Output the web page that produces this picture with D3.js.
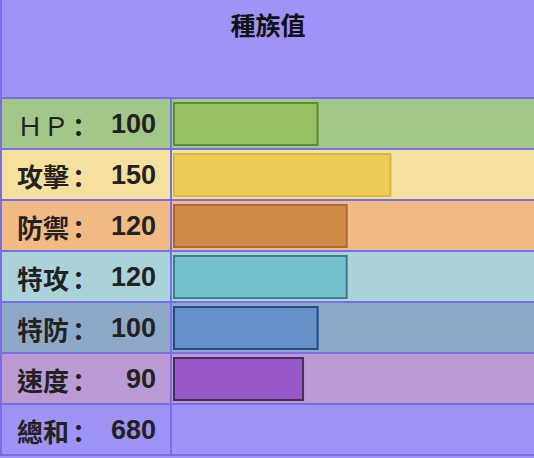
<!DOCTYPE html>
<html><head><meta charset="utf-8">
<script src="https://cdn.jsdelivr.net/npm/d3@7"></script>
<style>html,body{margin:0;padding:0;background:#9e94f7;}svg{display:block;}</style>
</head><body>
<script>
const title = "種族值";
const statLabels = ["ＨＰ：", "攻擊：", "防禦：", "特攻：", "特防：", "速度："];
const statValues = [100, 150, 120, 120, 100, 90];
const totalLabel = "總和：";
const totalValue = 680;
const rowBg = ["#a3c788", "#f6e09e", "#f2bb84", "#aad2d9", "#8fa8c8", "#bc9bd4"];
const barFill = ["#98c164", "#f0cc57", "#d08b47", "#73c1cb", "#6590c8", "#9857c6"];
const barStroke = ["#5d8c36", "#d2b94c", "#a9683f", "#3e7e8b", "#234b87", "#442f5c"];

const W = 534, H = 458;
const headBg = "#9e94f7", lineC = "#7a6ee8";
const headerH = 97, pitch = 51, lineW = 2;
const svg = d3.select("body").append("svg").attr("width", W).attr("height", H);
svg.append("rect").attr("width", W).attr("height", H).attr("fill", headBg);

const rows = statLabels.map((l, i) => ({label: l, value: statValues[i], i}));
rows.push({label: totalLabel, value: totalValue, i: 6, total: true});

const y = d3.scaleBand().domain(d3.range(rows.length)).range([headerH, headerH + pitch * rows.length]).padding(0);
const x = d3.scaleLinear().domain([0, 250]).range([173, 537]);

// row backgrounds
svg.selectAll("rect.bg").data(rows).join("rect")
  .attr("x", 2).attr("y", d => y(d.i) + lineW)
  .attr("width", W - 2).attr("height", pitch - lineW)
  .attr("fill", d => d.total ? headBg : rowBg[d.i]);

// horizontal borders
svg.selectAll("rect.hl").data(d3.range(rows.length + 1)).join("rect")
  .attr("x", 0).attr("y", i => headerH + pitch * i)
  .attr("width", W).attr("height", lineW).attr("fill", lineC);
// left border and divider
svg.append("rect").attr("x", 0).attr("y", 0).attr("width", 2).attr("height", headerH + pitch * rows.length + lineW).attr("fill", lineC);
svg.append("rect").attr("x", 170).attr("y", headerH).attr("width", 2).attr("height", pitch * rows.length + lineW).attr("fill", lineC);

// bars
svg.selectAll("rect.bar").data(rows.filter(d => !d.total)).join("rect")
  .attr("x", x(0) + 1).attr("y", d => y(d.i) + lineW + 4)
  .attr("width", d => x(d.value) - x(0) - 2).attr("height", 42)
  .attr("fill", d => barFill[d.i]).attr("stroke", d => barStroke[d.i]).attr("stroke-width", 2);

// title
svg.append("text").attr("x", 268).attr("y", 35).attr("text-anchor", "middle")
  .attr("font-family", "'Noto Sans CJK TC', sans-serif").attr("font-weight", "bold")
  .attr("font-size", 25).attr("fill", "#111").text(title);

// labels (colon set in SC font so it sits left in its em box)
const lab = svg.selectAll("text.lab").data(rows).join("text")
  .attr("x", 17).attr("y", d => y(d.i) + lineW + 24.5)
  .attr("dominant-baseline", "central")
  .attr("font-family", "'Noto Sans CJK TC', sans-serif")
  .attr("font-weight", d => /[Ａ-Ｚ]/.test(d.label) ? "normal" : "bold")
  .attr("font-size", 26).attr("fill", "#222");
lab.append("tspan").text(d => d.label.slice(0, -1));
lab.append("tspan").attr("dx", 3).attr("font-family", "'Noto Sans CJK SC', sans-serif").attr("font-weight", "bold").text(d => d.label.slice(-1));

// values
svg.selectAll("text.val").data(rows).join("text")
  .attr("x", 156).attr("y", d => y(d.i) + lineW + 24.5)
  .attr("dominant-baseline", "central").attr("text-anchor", "end")
  .attr("font-family", "'Liberation Sans', Arial, sans-serif").attr("font-weight", "bold")
  .attr("font-size", 27).attr("fill", "#222").text(d => d.value);
</script>
</body></html>
